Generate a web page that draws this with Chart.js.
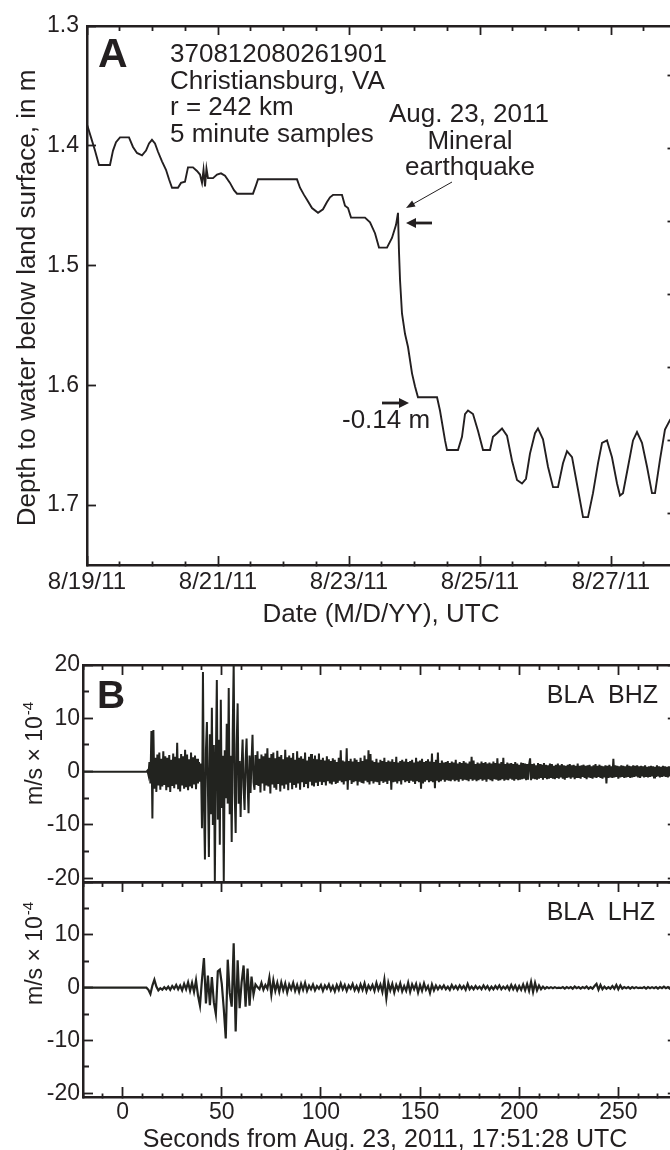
<!DOCTYPE html>
<html>
<head>
<meta charset="utf-8">
<title>Mineral earthquake: Christiansburg well and BLA seismograms</title>
<script src="https://cdn.jsdelivr.net/npm/chart.js@4.4.1/dist/chart.umd.min.js"></script>
<style>
html, body { margin:0; padding:0; background:#fff; overflow:hidden; }
body { position:relative; width:670px; height:1150px; }
canvas { position:absolute; left:0; }
</style>
</head>
<body>
<canvas id="cA" width="700" height="640" style="top:0;width:700px;height:640px"></canvas>
<canvas id="cB" width="700" height="250" style="top:640px;width:700px;height:250px"></canvas>
<canvas id="cL" width="700" height="290" style="top:860px;width:700px;height:290px"></canvas>
<script>
// ---------------- Panel A: well 370812080261901 (days after 8/19/11 00:00 UTC) ----------------
const aDays = [0.005, 0.061, 0.122, 0.183, 0.351, 0.397, 0.443, 0.504, 0.641, 0.702,
  0.763, 0.840, 0.901, 0.947, 0.992, 1.038, 1.084, 1.145, 1.206, 1.252,
  1.298, 1.389, 1.435, 1.496, 1.542, 1.618, 1.679, 1.725, 1.756, 1.779,
  1.802, 1.824, 1.847, 1.924, 1.985, 2.046, 2.107, 2.183, 2.244, 2.290,
  2.534, 2.580, 2.611, 3.206, 3.252, 3.313, 3.359, 3.435, 3.527, 3.603,
  3.664, 3.710, 3.756, 3.893, 3.939, 3.985, 4.031, 4.244, 4.321, 4.397,
  4.458, 4.580, 4.656, 4.718, 4.748, 4.763, 4.779, 4.809, 4.855, 4.901,
  4.962, 5.008, 5.053, 5.344, 5.389, 5.466, 5.496, 5.664, 5.725, 5.771,
  5.817, 5.893, 5.969, 6.046, 6.153, 6.198, 6.260, 6.336, 6.412, 6.489,
  6.565, 6.641, 6.702, 6.763, 6.840, 6.885, 6.962, 7.038, 7.115, 7.191,
  7.267, 7.328, 7.405, 7.496, 7.573, 7.649, 7.725, 7.802, 7.863, 7.939,
  8.015, 8.092, 8.137, 8.183, 8.260, 8.336, 8.397, 8.473, 8.550, 8.626,
  8.672, 8.748, 8.824, 8.901, 8.992];
const aDepth = [1.383, 1.393, 1.404, 1.416, 1.416, 1.404, 1.397, 1.393, 1.393, 1.401,
  1.406, 1.408, 1.404, 1.398, 1.395, 1.398, 1.405, 1.413, 1.420, 1.428,
  1.435, 1.435, 1.431, 1.430, 1.418, 1.418, 1.421, 1.424, 1.431, 1.420,
  1.434, 1.419, 1.427, 1.427, 1.424, 1.423, 1.425, 1.431, 1.437, 1.440,
  1.440, 1.433, 1.428, 1.428, 1.435, 1.441, 1.445, 1.452, 1.456, 1.453,
  1.447, 1.443, 1.441, 1.441, 1.450, 1.452, 1.460, 1.460, 1.464, 1.473,
  1.485, 1.485, 1.477, 1.466, 1.456, 1.488, 1.512, 1.540, 1.557, 1.568,
  1.590, 1.601, 1.610, 1.610, 1.621, 1.646, 1.654, 1.654, 1.643, 1.624,
  1.621, 1.624, 1.638, 1.654, 1.654, 1.643, 1.640, 1.636, 1.642, 1.663,
  1.679, 1.682, 1.678, 1.657, 1.640, 1.636, 1.645, 1.668, 1.685, 1.685,
  1.665, 1.655, 1.660, 1.687, 1.710, 1.710, 1.690, 1.665, 1.648, 1.646,
  1.660, 1.682, 1.692, 1.690, 1.668, 1.646, 1.639, 1.648, 1.668, 1.690,
  1.690, 1.662, 1.637, 1.629, 1.622];
const dateTickDays = [0, 2, 4, 6, 8];
const dateLabels = ['8/19/11', '8/21/11', '8/23/11', '8/25/11', '8/27/11'];
const depthTicks = [1.3, 1.4, 1.5, 1.6, 1.7];
const feetTicks = [4.4, 4.6, 4.8, 5.0, 5.2, 5.4, 5.6];

// ---------------- Panel B: BLA seismograms (m/s x 1e-4) ----------------
const bhzStart = 12, bhzStep = 0.5;
const bhzVel = [
  0, 0.2, -0.6, 1.8, -2.2, 7.6, -8.8, 7.8, -3.2, 2.6, -3.8, 3.2, -2.6, 3.6, -3.4, 2.4, -2.8, 3.8, -2.5, 2.9,
  -3.5, 2.6, -2.9, 3.1, -3.8, 2.2, -2.7, 3.4, -3.1, 2.8, -2.4, 5.4, -3.3, 2.5, -3.7, 3.3, -2.6, 2.9, -3.2, 4.1,
  -2.9, 3.2, -3.5, 2.3, -2.8, 3.6, -3.1, 2.7, -2.4, 3.0, -3.3, 2.4, -2.2, 1.8, -1.9, 1.5, -10.6, 18.7, -6, -16.5,
  4, 9.3, -3, -16, 7, -8, 12, -10, 5, -20.5, 2, 17.2, -9, 6, -13.7, 13.5, -6.8, 3, -20.5, 4,
  -5, 9, -6, 15.7, -8, 3, -13.2, 7, 20.5, -4, -11.5, 5, 12.8, -6, 2, -8.5, 1, 6, -3, -7.2,
  2, 6.2, -2, -7.8, 3, -4, 2, 6.9, -2, -3.4, 3.1, -2.5, 3.8, -2.7, 2.4, -3.9, 3.2, -2.2, 2.9, -3.6,
  3.4, -2.6, 4.4, -2.8, 2.6, -4.1, 3.3, -2.4, 3.6, -3.0, 2.5, -3.4, 3.9, -2.3, 2.8, -3.7, 3.1, -2.6, 2.3, -3.2,
  4.1, -2.4, 2.7, -3.5, 3.0, -2.1, 2.6, -3.3, 3.5, -2.5, 2.2, -3.0, 3.8, -2.2, 2.6, -3.4, 2.9, -2.0, 2.4, -2.9,
  3.6, -2.3, 2.1, -3.1, 2.8, -1.9, 3.3, -2.6, 2.4, -2.8, 3.0, -2.1, 2.3, -2.7, 3.4, -1.9, 2.2, -2.5, 2.6, -2.0,
  2.1, -2.6, 2.9, -1.8, 2.3, -2.2, 2.0, -2.4, 2.5, -1.9, 2.2, -2.3, 1.8, -2.1, 2.6, -1.7, 4.0, -2.0, 2.1, -2.4,
  1.9, -1.8, 4.4, -3.4, 2.0, -1.6, 2.4, -2.3, 1.9, -2.0, 2.5, -1.8, 2.2, -2.6, 1.8, -1.9, 2.6, -2.1, 2.0, -2.2,
  3.0, -1.7, 2.3, -2.0, 4.0, -2.4, 3.3, -1.8, 2.1, -2.2, 1.8, -1.9, 2.4, -2.0, 1.7, -2.5, 2.2, -1.8, 2.0, -2.1,
  2.6, -1.9, 1.8, -2.3, 2.1, -1.7, 1.9, -3.4, 2.3, -2.0, 1.8, -1.9, 2.8, -2.2, 1.7, -1.8, 2.0, -2.4, 2.2, -1.6,
  1.9, -2.0, 2.4, -1.8, 1.8, -2.1, 2.0, -1.7, 2.2, -1.9, 1.7, -2.3, 2.6, -1.8, 1.9, -2.0, 2.1, -3.2, 2.4, -2.2,
  1.8, -1.9, 2.0, -1.6, 2.3, -2.0, 1.9, -1.8, 3.4, -2.0, 1.8, -3.1, 2.2, -1.7, 3.6, -2.0, 1.6, -1.8, 2.1, -1.5,
  1.7, -1.9, 1.8, -1.6, 2.0, -1.7, 1.6, -1.8, 1.9, -1.5, 1.7, -1.8, 2.2, -1.6, 1.5, -1.9, 1.8, -1.4, 1.6, -1.7,
  2.0, -1.5, 1.7, -1.6, 1.5, -1.8, 1.9, -1.4, 2.8, -1.7, 2.1, -1.5, 1.4, -1.8, 1.7, -1.6, 1.5, -1.4, 1.9, -1.7,
  1.6, -1.5, 1.8, -1.9, 1.5, -1.4, 1.7, -1.6, 1.5, -1.8, 1.9, -1.4, 1.6, -1.5, 2.5, -1.7, 1.5, -1.6, 1.8, -1.4,
  2.6, -1.7, 1.4, -1.5, 1.7, -1.6, 1.5, -1.3, 1.6, -1.5, 1.4, -1.7, 1.8, -1.4, 1.5, -1.6, 1.3, -1.5, 1.7, -1.4,
  1.6, -1.3, 1.5, -1.6, 1.4, -1.5, 1.3, 2.5, -1.6, 1.4, -1.3, 1.5, -1.4, 1.2, -1.5, 1.6, -1.3, 1.4, -1.2, 1.3,
  -1.5, 1.6, -1.2, 1.3, -1.4, 1.2, -1.3, 1.5, -1.2, 1.4, -1.3, 1.1, -1.4, 1.3, -1.2, 1.5, -1.3, 1.2, -1.1, 1.4,
  -1.3, 1.2, -1.5, 1.1, -1.2, 1.3, -1.1, 1.4, -1.3, 1.2, -1.1, 1.3, -1.4, 1.1, -1.2, 1.5, -1.2, 1.1, -1.3, 1.2,
  -1.0, 1.3, -1.2, 1.1, -1.4, 1.2, -1.1, 1.3, -1.2, 1.0, -1.3, 1.2, -1.1, 1.4, -1.2, 1.1, -1.0, 1.3, -1.2, 1.1,
  -1.3, 1.0, -1.1, 1.2, -2.2, 1.1, -1.2, 1.3, -1.1, 1.0, -1.2, 2.4, -1.1, 1.2, -1.0, 1.1, -1.3, 1.0, -1.1, 1.2,
  -1.0, 1.1, -1.2, 1.0, -1.1, 1.3, -1.0, 1.1, -1.2, 1.0, -1.1, 1.2, -1.0, 1.1, -0.9, 1.2, -1.1, 1.0, -1.2, 1.1,
  -0.9, 1.0, -1.1, 1.2, -1.0, 0.9, -1.1, 1.0, -1.0, 1.1, -0.9, 1.0, -1.1, 0.9, -1.0, 1.2, -0.9, 1.0, -1.1, 0.9,
  -1.0, 1.1, -0.9, 1.0, -1.0, 0.9, -1.1, 1.0, -0.9, 1.0, -1.0, 0.9, -0.9, 1.0, -1.0, 0.9, -0.9];
const lhzStart = 10, lhzStep = 1;
const lhzVel = [
  0, 0, 0, -0.4, -1.2, 0.4, 1.5, 0.2, -0.5, -0.1,
  -0.4, 0.1, -0.3, 0.2, -0.4, 0.3, -0.2, 0.5, -0.3, 0.4,
  -0.5, 0.7, -0.3, 1.0, -0.6, 0.9, -0.8, 1.4, -1.5, -3.4,
  1.5, 5.6, -3.0, 2.3, -3.3, 2.0, -2.8, -5.0, 3.1, 3.4,
  0.7, -4.0, -9.6, 5.3, -1.0, -3.6, 8.4, -8.3, 5.2, -3.9,
  1.0, 4.2, -3.6, 3.6, -3.4, 2.1, -1.3, 0.6, 0.1, -0.3,
  0.9, -0.4, 0.5, -0.2, 1.9, -1.3, 1.4, -0.6, 0.9, -0.8,
  1.0, -0.5, 0.8, -0.9, 0.6, -0.3, 0.9, -0.6, 0.5, -0.8,
  0.7, -0.4, 0.9, -0.6, 0.4, -0.3, 0.6, -0.5, 0.3, -0.2,
  0.5, -0.6, 0.4, -0.2, 0.6, -0.5, 0.3, -0.7, 0.5, -0.4,
  0.8, -0.3, 0.5, -0.6, 0.4, -0.2, 0.7, -0.5, 0.3, -0.6,
  0.6, -0.4, 0.8, -0.7, 0.4, -0.3, 0.5, -0.6, 0.9, -0.4,
  0.6, -0.8, 1.5, -2.0, 0.9, -0.5, 0.7, -0.9, 0.5, -0.4,
  0.8, -0.7, 0.3, -0.6, 0.9, -0.8, 0.6, -0.3, 0.7, -0.9,
  0.5, -0.6, 0.8, -0.4, 0.3, -1.0, 0.6, -0.5, 0.4, -0.3,
  0.3, -0.2, 0.4, -0.3, 0.2, -0.4, 0.5, -0.2, 0.3, -0.3,
  0.4, -0.2, 0.3, -0.4, 0.7, -0.3, 0.2, -0.3, 0.3, -0.2,
  0.2, -0.3, 0.4, -0.2, 0.3, -0.4, 0.2, -0.3, 0.3, -0.2,
  0.4, -0.3, 0.2, -0.2, 0.3, -0.4, 0.5, -0.3, 0.4, -0.5,
  0.3, -0.4, 0.6, -0.5, 0.7, -0.6, 1.1, -0.8, 0.9, -0.5,
  0.4, -0.3, 0.2, -0.2, 0.1, -0.1, 0.1, -0.1, 0.1, -0.1,
  0.0, -0.1, 0.1, -0.2, 0.1, -0.1, 0.1, -0.2, 0.2, -0.1,
  0.1, -0.2, 0.1, -0.1, 0.2, -0.2, 0.1, -0.2, 0.3, 0.7,
  -0.4, 0.5, -0.3, 0.2, -0.2, 0.1, -0.2, 0.3, -0.2, 0.5,
  -0.3, 0.4, -0.2, 0.1, -0.1, 0.1, -0.2, 0.1, -0.1, 0.1,
  -0.1, 0.0, -0.1, 0.1, -0.2, 0.1, -0.1, 0.1, -0.1, 0.1,
  -0.2, 0.1, -0.1, 0.2, -0.1, 0.1, -0.2, 0.3, -0.1, 0.1,
  0.0];
const secLabels = [0, 50, 100, 150, 200, 250];
const velLabelsBHZ = [20, 10, 0, -10, -20];
const velLabelsLHZ = [10, 0, -10, -20];

// ---------------- styling / helpers ----------------
const INK = '#231f20';
const FF = '"Liberation Sans", Arial, Helvetica, sans-serif';
Chart.defaults.font.family = FF;
Chart.defaults.color = INK;

function inGrid(isMajor, majLen, minLen, fromAxis, show) {
  return {
    drawOnChartArea: false,
    drawTicks: show !== false,
    tickLength: -majLen,
    tickWidth: 1.8,
    tickColor: INK,
    tickBorderDash: ctx => (!ctx.tick || isMajor(ctx.tick.value)) ? [] :
      (fromAxis ? [minLen, 300] : [0, majLen - minLen, minLen, 300])
  };
}
const border = { display: true, color: INK, width: 2.5 };
function fixSize(w, h) {
  return s => {
    if (w !== null) s.width = w;
    if (h !== null) s.height = h;
    s.paddingLeft = 0; s.paddingRight = 0; s.paddingTop = 0; s.paddingBottom = 0;
  };
}
function setTicks(values) { return s => { s.ticks = values.map(v => ({ value: v })); }; }

function arrow(ctx, x1, y1, x2, y2, lw, hl, hw) {
  const a = Math.atan2(y2 - y1, x2 - x1), c = Math.cos(a), s = Math.sin(a);
  ctx.lineWidth = lw;
  ctx.beginPath(); ctx.moveTo(x1, y1); ctx.lineTo(x2 - c * hl * 0.7, y2 - s * hl * 0.7); ctx.stroke();
  ctx.beginPath(); ctx.moveTo(x2, y2);
  ctx.lineTo(x2 - c * hl - s * hw, y2 - s * hl + c * hw);
  ctx.lineTo(x2 - c * hl + s * hw, y2 - s * hl - c * hw);
  ctx.closePath(); ctx.fill();
}
function textPlugin(id, offY, items, extra) {
  return {
    id,
    afterDraw(chart) {
      const ctx = chart.ctx;
      ctx.save();
      ctx.fillStyle = INK; ctx.strokeStyle = INK;
      for (const it of items) {
        ctx.save();
        ctx.font = (it.bold ? 'bold ' : '') + it.size + 'px ' + FF;
        ctx.textAlign = it.align || 'left';
        ctx.textBaseline = 'alphabetic';
        ctx.translate(it.x, it.y - offY);
        if (it.rot) ctx.rotate(it.rot);
        ctx.fillText(it.t, 0, 0);
        if (it.sup) {
          const w = ctx.measureText(it.t).width;
          ctx.font = it.supSize + 'px ' + FF;
          ctx.textAlign = 'left';
          ctx.fillText(it.sup, w + 1, -it.supRaise);
        }
        ctx.restore();
      }
      if (extra) extra(ctx, offY);
      ctx.restore();
    }
  };
}
const baseOpts = {
  responsive: false, animation: false, events: [],
  layout: { padding: 0 },
  plugins: { legend: { display: false }, tooltip: { enabled: false } }
};

// ---------------- Chart A ----------------
const dayTicks = []; for (let d = 0; d <= 9; d += 0.5) dayTicks.push(d);
const isDayMajor = v => dateTickDays.includes(v);

new Chart(document.getElementById('cA'), {
  type: 'line',
  data: { datasets: [{
    data: aDays.map((d, i) => ({ x: d, y: aDepth[i] })),
    borderColor: INK, borderWidth: 1.9, pointRadius: 0, tension: 0, fill: false,
    xAxisID: 'x', yAxisID: 'y'
  }]},
  options: Object.assign({}, baseOpts, {
    scales: {
      x: { type: 'linear', position: 'bottom', min: 0, max: 9,
        afterBuildTicks: setTicks(dayTicks),
        ticks: { autoSkip: false, maxRotation: 0, minRotation: 0, padding: 12, font: { size: 24 }, color: INK,
          callback: v => { const k = dateTickDays.indexOf(v); return k >= 0 ? dateLabels[k] : ''; } },
        grid: inGrid(isDayMajor, 9, 5, true), border, afterFit: fixSize(null, 75) },
      xTop: { type: 'linear', position: 'top', min: 0, max: 9,
        afterBuildTicks: setTicks(dayTicks), ticks: { display: false, autoSkip: false },
        grid: inGrid(isDayMajor, 9, 5, false), border, afterFit: fixSize(null, 26) },
      y: { type: 'linear', position: 'left', reverse: true, min: 1.3, max: 1.75,
        afterBuildTicks: setTicks(depthTicks),
        ticks: { autoSkip: false, padding: 17, font: { size: 23 }, color: INK, callback: v => v.toFixed(1) },
        grid: inGrid(() => true, 9, 9, false), border, afterFit: fixSize(87, null) },
      yFt: { type: 'linear', position: 'right', reverse: true, min: 1.3 / 0.3048, max: 1.75 / 0.3048,
        afterBuildTicks: setTicks(feetTicks), ticks: { display: false, autoSkip: false },
        grid: inGrid(() => true, 9, 9, true), border, afterFit: fixSize(23.5, null) }
    }
  }),
  plugins: [textPlugin('txtA', 0, [
    { t: 'A', x: 98, y: 67, size: 41, bold: true },
    { t: '370812080261901', x: 170, y: 62, size: 26 },
    { t: 'Christiansburg, VA', x: 170, y: 88.5, size: 26 },
    { t: 'r = 242 km', x: 170, y: 115, size: 26 },
    { t: '5 minute samples', x: 170, y: 141.5, size: 26 },
    { t: 'Aug. 23, 2011', x: 469, y: 122, size: 26, align: 'center' },
    { t: 'Mineral', x: 470, y: 148.5, size: 26, align: 'center' },
    { t: 'earthquake', x: 470, y: 175, size: 26, align: 'center' },
    { t: '-0.14 m', x: 342, y: 428, size: 26 },
    { t: 'Date (M/D/YY), UTC', x: 381, y: 622, size: 26, align: 'center' },
    { t: 'Depth to water below land surface, in m', x: 35, y: 298, size: 26, align: 'center', rot: -Math.PI / 2 }
  ], (ctx) => {
    arrow(ctx, 452, 182, 406, 208, 1, 9, 3.5);
    arrow(ctx, 432, 223, 406, 223, 2.8, 10, 5);
    arrow(ctx, 382, 403, 409, 403, 2.8, 10, 5);
  })]
});

// ---------------- Seismogram charts ----------------
const secTicks = []; for (let s = -20; s <= 280; s += 10) secTicks.push(s);
const velTicks = []; for (let v = -20; v <= 20; v += 5) velTicks.push(v);
const isSecMajor = v => v % 50 === 0;
const isVelMajor = v => v % 10 === 0;
const VMIN = -20.7, VMAX = 20;

function seisChart(id, vals, start, step, lw, labelsY, topH, botH, showX, texts, offY) {
  const pts = [{ x: -20, y: 0 }].concat(vals.map((v, i) => ({ x: start + i * step, y: v })));
  return new Chart(document.getElementById(id), {
    type: 'line',
    data: { datasets: [{ data: pts, borderColor: '#22231f', borderWidth: lw, pointRadius: 0, tension: 0, fill: false, xAxisID: 'x', yAxisID: 'y' }] },
    options: Object.assign({}, baseOpts, {
      scales: {
        x: { type: 'linear', position: 'bottom', min: -20, max: 280,
          afterBuildTicks: setTicks(secTicks),
          ticks: showX ? { autoSkip: false, maxRotation: 0, minRotation: 0, padding: 12, font: { size: 23 }, color: INK,
            callback: v => secLabels.includes(v) ? String(v) : '' } : { display: false, autoSkip: false },
          grid: showX ? inGrid(isSecMajor, 10, 5, true) : { drawOnChartArea: false, drawTicks: false },
          border, afterFit: fixSize(null, botH) },
        xTop: { type: 'linear', position: 'top', min: -20, max: 280,
          afterBuildTicks: setTicks(secTicks), ticks: { display: false, autoSkip: false },
          grid: inGrid(isSecMajor, 10, 5, false), border, afterFit: fixSize(null, topH) },
        y: { type: 'linear', position: 'left', min: VMIN, max: VMAX,
          afterBuildTicks: setTicks(velTicks),
          ticks: { autoSkip: false, padding: 13, font: { size: 23 }, color: INK,
            callback: v => labelsY.includes(v) ? String(v) : '' },
          grid: inGrid(isVelMajor, 10, 6, false), border, afterFit: fixSize(83, null) },
        yR: { type: 'linear', position: 'right', min: VMIN, max: VMAX,
          afterBuildTicks: setTicks(velTicks), ticks: { display: false, autoSkip: false },
          grid: inGrid(isVelMajor, 10, 5, true), border, afterFit: fixSize(22.2, null) }
      }
    }),
    plugins: [textPlugin('txt' + id, offY, texts)]
  });
}

seisChart('cB', bhzVel, bhzStart, bhzStep, 2, velLabelsBHZ, 25, 8, false, [
  { t: 'B', x: 97, y: 708, size: 39, bold: true },
  { t: 'BLA  BHZ', x: 658, y: 703, size: 25, align: 'right' },
  { t: 'm/s \u00d7 10', sup: '-4', supSize: 15, supRaise: 9, x: 42, y: 805, size: 23, rot: -Math.PI / 2 }
], 640);

seisChart('cL', lhzVel, lhzStart, lhzStep, 2.2, velLabelsLHZ, 22, 53, true, [
  { t: 'BLA  LHZ', x: 655, y: 920, size: 25, align: 'right' },
  { t: 'm/s \u00d7 10', sup: '-4', supSize: 15, supRaise: 9, x: 42, y: 1005, size: 23, rot: -Math.PI / 2 },
  { t: 'Seconds from Aug. 23, 2011, 17:51:28 UTC', x: 385, y: 1147, size: 25, align: 'center' }
], 860);
</script>
</body>
</html>
